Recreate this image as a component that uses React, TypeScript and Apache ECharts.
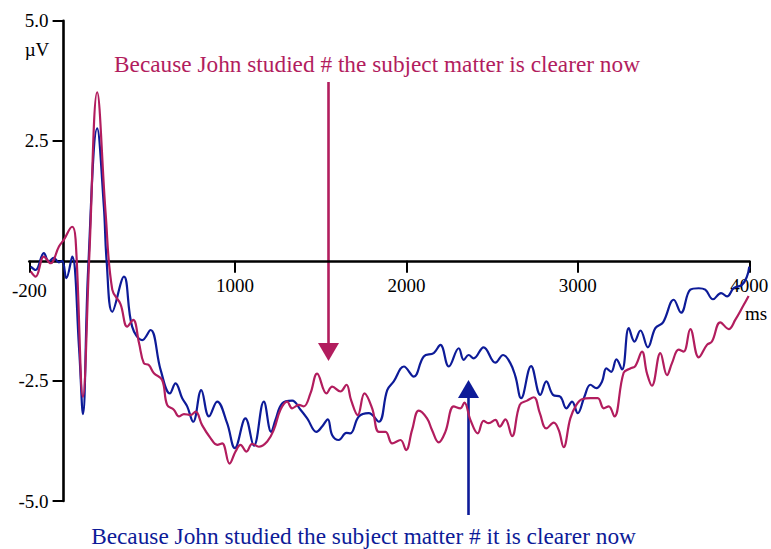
import React, { useEffect, useRef } from 'react';
import * as echarts from 'echarts';

// Tick labels shown on the axes
const xTickLabels = ['-200', '1000', '2000', '3000', '4000'];
const yTickLabels = ['-5.0', '-2.5', '2.5', '5.0'];

// Annotations
const topSentence = 'Because John studied # the subject matter is clearer now';
const bottomSentence = 'Because John studied the subject matter # it is clearer now';
const xUnit = 'ms';
const yUnit = 'µV';

// ERP waveform, sentence with "# the subject matter" (magenta): [ms, µV]
const magentaWave: [number, number][] = [
  [-192, -0.22], [-163, -0.33], [-115, 0.09], [-76, -0.05], [-27, 0.30], [2, 0.44],
  [50, 0.71], [70, 0.45], [113, -2.83], [150, 0.1], [196, 3.51], [245, 1.0],
  [284, -0.60], [332, -0.90], [371, -1.37], [406, -1.23], [440, -1.71], [468, -2.13],
  [497, -2.17], [527, -2.34], [575, -2.48], [604, -3.00], [643, -3.10], [673, -3.24],
  [702, -3.19], [741, -3.21], [770, -3.14], [808, -3.42], [857, -3.69], [896, -3.83],
  [925, -3.80], [968, -4.22], [1003, -3.97], [1032, -3.83], [1067, -3.97], [1100, -3.81],
  [1139, -3.87], [1188, -3.76], [1226, -3.52], [1265, -3.10], [1304, -2.93], [1333, -3.07],
  [1372, -3.00], [1401, -3.03], [1440, -2.76], [1479, -2.35], [1534, -2.76], [1567, -2.62],
  [1615, -2.72], [1650, -2.58], [1677, -2.90], [1716, -3.21], [1755, -2.76], [1800, -3.07],
  [1839, -3.56], [1878, -3.56], [1917, -3.80], [1965, -3.73], [1998, -3.94], [2033, -3.52],
  [2072, -3.12], [2120, -3.28], [2149, -3.52], [2188, -3.78], [2227, -3.56], [2276, -3.03],
  [2315, -3.07], [2338, -2.95], [2373, -3.31], [2416, -3.59], [2450, -3.33], [2480, -3.38],
  [2519, -3.31], [2544, -3.45], [2577, -3.30], [2616, -3.65], [2661, -3.00], [2704, -2.91],
  [2743, -2.84], [2778, -3.17], [2816, -3.49], [2859, -3.37], [2888, -3.52], [2917, -3.88],
  [2956, -3.28], [2991, -3.00], [3024, -2.88], [3073, -2.86], [3116, -2.86], [3151, -3.07],
  [3180, -3.03], [3213, -3.24], [3267, -2.33], [3306, -2.24], [3335, -2.19], [3374, -1.89],
  [3403, -2.34], [3432, -2.60], [3481, -1.92], [3520, -2.38], [3549, -2.13], [3588, -1.85],
  [3617, -1.89], [3656, -1.42], [3705, -2.01], [3753, -1.75], [3782, -1.68], [3831, -1.28],
  [3880, -1.42], [3918, -1.23], [3967, -0.92], [3996, -0.73],
];

// ERP waveform, sentence with "# it is clearer now" (blue): [ms, µV]
const blueWave: [number, number][] = [
  [-192, -0.12], [-163, -0.19], [-115, 0.16], [-86, -0.01], [-57, 0.06], [-27, -0.03],
  [-8, 0.0], [16, -0.36], [50, 0.09], [90, -1.8], [113, -3.19], [143, -0.2],
  [196, 2.76], [235, 1.13], [251, 0.0], [284, -1.06], [352, -0.33], [400, -1.37],
  [459, -1.65], [507, -1.44], [566, -2.27], [620, -2.76], [653, -2.55], [692, -2.86],
  [721, -3.03], [756, -3.35], [803, -2.69], [848, -3.24], [896, -2.93], [954, -3.38],
  [999, -3.90], [1061, -3.28], [1110, -3.85], [1168, -2.93], [1211, -3.56], [1236, -3.31],
  [1275, -2.97], [1333, -2.91], [1382, -3.10], [1421, -3.28], [1475, -3.56], [1508, -3.45],
  [1541, -3.30], [1567, -3.63], [1605, -3.73], [1650, -3.58], [1673, -3.59], [1722, -3.24],
  [1780, -3.17], [1839, -3.35], [1888, -2.69], [1926, -2.51], [1985, -2.20], [2043, -2.41],
  [2101, -1.99], [2159, -1.92], [2198, -1.75], [2247, -2.20], [2305, -1.82], [2334, -2.06],
  [2363, -1.96], [2392, -2.03], [2450, -1.80], [2519, -2.12], [2564, -1.96], [2606, -2.13],
  [2636, -2.41], [2669, -2.86], [2727, -2.19], [2781, -2.79], [2816, -2.51], [2855, -2.79],
  [2898, -2.83], [2933, -3.07], [2966, -2.93], [2999, -3.17], [3038, -2.83], [3073, -2.58],
  [3108, -2.65], [3141, -2.51], [3166, -2.24], [3194, -2.31], [3225, -2.05], [3258, -2.26],
  [3297, -1.40], [3330, -1.68], [3365, -1.45], [3408, -1.80], [3452, -1.40], [3497, -1.28],
  [3559, -0.81], [3602, -1.08], [3656, -0.60], [3705, -0.57], [3743, -0.60], [3788, -0.80],
  [3835, -0.67], [3870, -0.74], [3909, -0.57], [3957, -0.50], [3986, -0.33], [4000, -0.12],
];

const MAGENTA = '#B21D5E';
const BLUE = '#0D1B98';
const FONT = "'Liberation Serif', 'Times New Roman', serif";

// Plot frame (pixels)
const GRID_LEFT = 29.3;
const GRID_RIGHT = 21.7;
const GRID_TOP = 20.7;
const GRID_BOTTOM = 48;
const W = 771;
const H = 549;

export default function App() {
  const ref = useRef<HTMLDivElement>(null);

  useEffect(() => {
    if (!ref.current) return;
    const chart = echarts.init(ref.current, undefined, { renderer: 'svg' });
    const xMin = -200, xMax = 4000, yMin = -5, yMax = 5;
    const plotW = W - GRID_LEFT - GRID_RIGHT;
    const plotH = H - GRID_TOP - GRID_BOTTOM;
    // move axes so that they cross at (0 ms, 0 µV)
    const xAxisOffset = -plotH * (0 - yMin) / (yMax - yMin);
    const yAxisOffset = -plotW * (0 - xMin) / (xMax - xMin);
    const axisLineStyle = { color: '#000', width: 2.6 };
    chart.setOption({
      animation: false,
      backgroundColor: '#fff',
      grid: {
        left: GRID_LEFT, right: GRID_RIGHT, top: GRID_TOP, bottom: GRID_BOTTOM,
        containLabel: false, outerBoundsMode: 'none',
      },
      xAxis: {
        type: 'value',
        min: xMin,
        max: xMax,
        splitNumber: 5,
        offset: xAxisOffset,
        axisLine: { onZero: false, lineStyle: axisLineStyle },
        axisTick: { show: true, length: 12, lineStyle: { color: '#000', width: 2 } },
        axisLabel: {
          showMinLabel: true,
          showMaxLabel: true,
          margin: 15,
          color: '#000',
          fontSize: 19,
          fontFamily: FONT,
          formatter: (v: number) => {
            const s = String(v);
            if (!xTickLabels.includes(s)) return '';
            return v === -200 ? '{low|' + s + '}' : s;
          },
          rich: {
            low: { padding: [5, 0, 0, 0], color: '#000', fontSize: 19, fontFamily: FONT },
          },
        },
        splitLine: { show: false },
      },
      yAxis: {
        type: 'value',
        min: yMin,
        max: yMax,
        interval: 2.5,
        offset: yAxisOffset,
        axisLine: { onZero: false, lineStyle: axisLineStyle },
        axisTick: { show: true, length: 11, lineStyle: { color: '#000', width: 2 } },
        axisLabel: {
          margin: 15,
          color: '#000',
          fontSize: 19,
          fontFamily: FONT,
          formatter: (v: number) => {
            const s = v.toFixed(1);
            return yTickLabels.includes(s) ? s : '';
          },
        },
        splitLine: { show: false },
      },
      series: [
        {
          type: 'line',
          data: blueWave,
          smooth: 0.4,
          showSymbol: false,
          lineStyle: { color: BLUE, width: 2.2 },
          itemStyle: { color: BLUE },
        },
        {
          type: 'line',
          data: magentaWave,
          smooth: 0.4,
          showSymbol: false,
          lineStyle: { color: MAGENTA, width: 2.2 },
          itemStyle: { color: MAGENTA },
        },
      ],
      graphic: [
        {
          type: 'text', x: 37, y: 49,
          style: { text: yUnit, fill: '#000', font: `19px ${FONT}`, align: 'center', verticalAlign: 'middle' },
        },
        {
          type: 'text', x: 756, y: 313,
          style: { text: xUnit, fill: '#000', font: `19px ${FONT}`, align: 'center', verticalAlign: 'middle' },
        },
        {
          type: 'text', x: 377, y: 64,
          style: { text: topSentence, fill: MAGENTA, font: `23.3px ${FONT}`, align: 'center', verticalAlign: 'middle' },
        },
        {
          type: 'line',
          shape: { x1: 328.5, y1: 82, x2: 328.5, y2: 346 },
          style: { stroke: MAGENTA, lineWidth: 2.6 },
        },
        {
          type: 'polygon',
          shape: { points: [[318, 343], [339, 343], [328.5, 361]] },
          style: { fill: MAGENTA },
        },
        {
          type: 'line',
          shape: { x1: 468.5, y1: 395, x2: 468.5, y2: 515 },
          style: { stroke: BLUE, lineWidth: 2.6 },
        },
        {
          type: 'polygon',
          shape: { points: [[458, 398], [479, 398], [468.5, 380]] },
          style: { fill: BLUE },
        },
        {
          type: 'text', x: 363.5, y: 536,
          style: { text: bottomSentence, fill: BLUE, font: `23.3px ${FONT}`, align: 'center', verticalAlign: 'middle' },
        },
      ],
    });
    return () => chart.dispose();
  }, []);

  return (
    <div
      ref={ref}
      style={{ position: 'absolute', left: 0, top: 0, width: W, height: H, background: '#fff' }}
    />
  );
}
